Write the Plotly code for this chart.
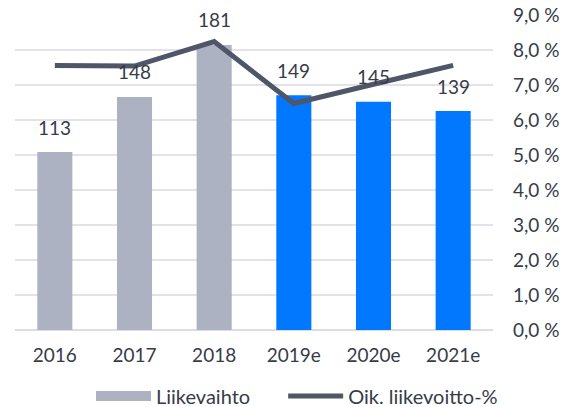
import plotly.graph_objects as go

categories = ["2016", "2017", "2018", "2019e", "2020e", "2021e"]
liikevaihto = [113, 148, 181, 149, 145, 139]
margin_pct = [7.56, 7.54, 8.24, 6.47, 7.02, 7.56]
actual_n = 3
pct_ticks = [0, 1, 2, 3, 4, 5, 6, 7, 8, 9]
pct_labels = ["0,0 %", "1,0 %", "2,0 %", "3,0 %", "4,0 %", "5,0 %", "6,0 %", "7,0 %", "8,0 %", "9,0 %"]

GREY = "#adb2c3"
BLUE = "#0178ff"
LINE = "#4f5668"
TXT = "#363c48"
FONT = "Lato"
FS = 19

fig = go.Figure()
fig.add_trace(go.Bar(x=categories[:actual_n], y=liikevaihto[:actual_n], name="Liikevaihto",
                     marker=dict(color=GREY, line=dict(width=0)), showlegend=False, yaxis="y"))
fig.add_trace(go.Bar(x=categories[actual_n:], y=liikevaihto[actual_n:], name="Liikevaihto e",
                     marker=dict(color=BLUE, line=dict(width=0)), showlegend=False, yaxis="y"))
# legend-only entry drawn as a wide grey block like the reference
fig.add_trace(go.Scatter(x=[None], y=[None], name="Liikevaihto", mode="lines",
                         line=dict(color=GREY, width=12), yaxis="y", legend="legend"))
fig.add_trace(go.Scatter(x=categories, y=margin_pct, name="Oik. liikevoitto-%", mode="lines",
                         line=dict(color=LINE, width=5), yaxis="y2", legend="legend2"))

for i, v in enumerate(liikevaihto):
    fig.add_annotation(x=i, xref="x", y=v, yref="y", text=str(v), showarrow=False, yshift=25,
                       font=dict(size=FS, color=TXT, family=FONT))

legend_common = dict(orientation="h", xanchor="left", y=-0.2095, yanchor="middle",
                     font=dict(size=FS + 1, color=TXT, family=FONT), itemwidth=55,
                     bgcolor="rgba(0,0,0,0)")

fig.update_layout(
    width=566, height=407,
    margin=dict(l=15, r=73, t=15, b=77, autoexpand=False),
    paper_bgcolor="white", plot_bgcolor="white",
    font=dict(family=FONT, size=FS, color=TXT),
    barmode="overlay", bargap=0.56,
    xaxis=dict(type="category", categoryorder="array", categoryarray=categories,
               range=[-0.5, len(categories) - 0.5],
               showgrid=False, showline=False, ticks="", ticklabelstandoff=12,
               tickfont=dict(size=FS, color=TXT, family=FONT)),
    yaxis=dict(range=[0, 200], tick0=0, dtick=200/9, showticklabels=False, showgrid=True,
               gridcolor="#e2e2e8", gridwidth=1.5, zeroline=True, zerolinecolor="#dcdce2",
               zerolinewidth=2, showline=False, ticks=""),
    yaxis2=dict(range=[0, 9], overlaying="y", side="right", tickvals=pct_ticks, ticktext=pct_labels,
                showgrid=False, zeroline=False, showline=False, ticks="", ticklabelstandoff=19,
                tickfont=dict(size=FS, color=TXT, family=FONT)),
    legend=dict(x=0.159, **legend_common),
    legend2=dict(x=0.561, **legend_common),
)

fig.write_html("out.html")
